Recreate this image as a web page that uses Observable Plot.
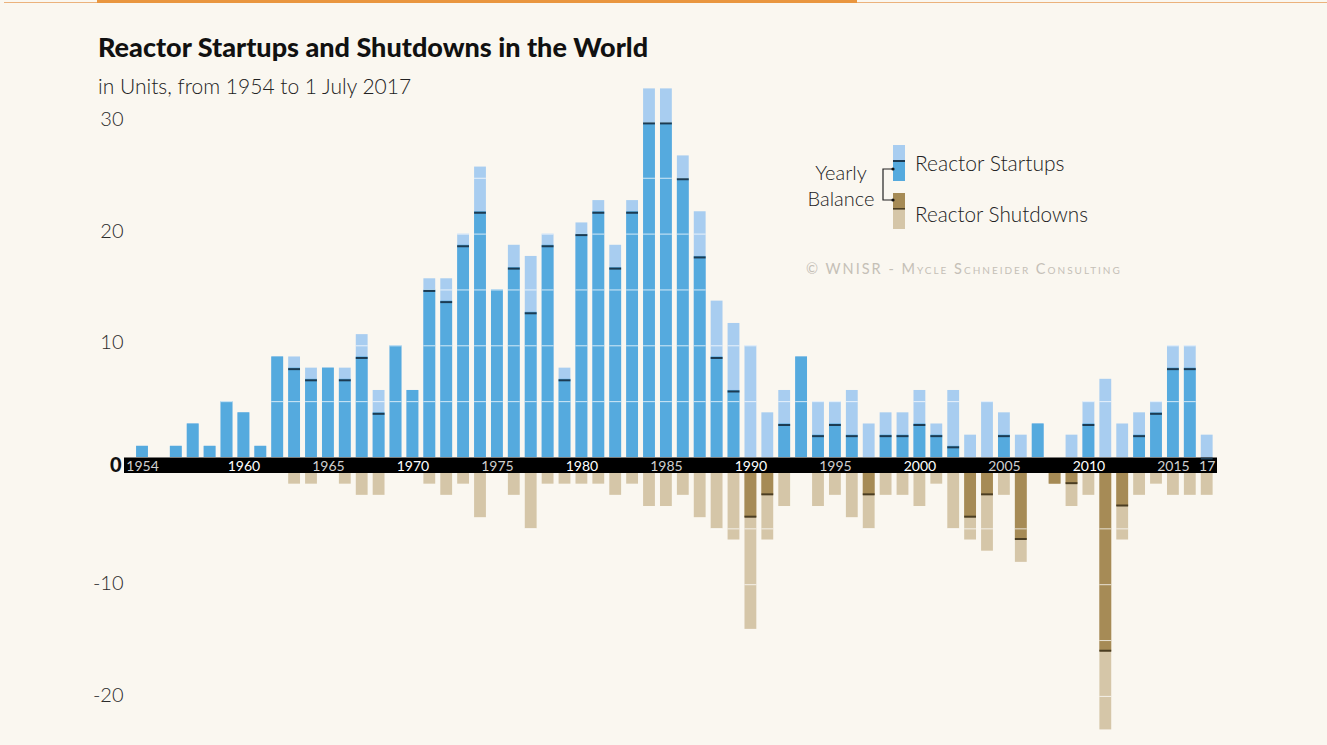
<!DOCTYPE html>
<html>
<head>
<meta charset="utf-8">
<script src="https://cdn.jsdelivr.net/npm/d3@7"></script>
<script src="https://cdn.jsdelivr.net/npm/@observablehq/plot@0.6"></script>
<style>
  html, body { margin: 0; padding: 0; background: #faf7f0; }
  #wrap { position: relative; width: 1327px; height: 745px; overflow: hidden; background: #faf7f0; font-family: Lato, "Open Sans", sans-serif; }
  .thin { position: absolute; top: 2px; left: 4px; right: 0; height: 1px; background: #ebb27c; }
  .thick { position: absolute; top: 0; left: 97px; width: 760px; height: 3px; background: #e9963f; }
  .title { position: absolute; left: 98px; top: 33px; line-height: 1; font-weight: 900; font-size: 27px; color: #111; white-space: nowrap; }
  .subtitle { position: absolute; left: 98px; top: 73px; font-weight: 300; font-size: 21px; color: #222; white-space: nowrap; }
  #chart { position: absolute; left: 0; top: 60px; }
</style>
</head>
<body>
<div id="wrap">
  <div class="thin"></div>
  <div class="thick"></div>
  <div class="title">Reactor Startups and Shutdowns in the World</div>
  <div class="subtitle">in Units, from 1954 to 1 July 2017</div>
  <div id="chart"></div>
</div>
<script>
const years = [1954,1955,1956,1957,1958,1959,1960,1961,1962,1963,
  1964,1965,1966,1967,1968,1969,1970,1971,1972,1973,
  1974,1975,1976,1977,1978,1979,1980,1981,1982,1983,
  1984,1985,1986,1987,1988,1989,1990,1991,1992,1993,
  1994,1995,1996,1997,1998,1999,2000,2001,2002,2003,
  2004,2005,2006,2007,2008,2009,2010,2011,2012,2013,
  2014,2015,2016,2017];
const startups = [1,0,1,3,1,5,4,1,9,9,
  8,8,8,11,6,10,6,16,16,20,
  26,15,19,18,20,8,21,23,19,23,
  33,33,27,22,14,12,10,4,6,9,
  5,5,6,3,4,4,6,3,6,2,
  5,4,2,3,0,2,5,7,3,4,
  5,10,10,2];
const shutdowns = [0,0,0,0,0,0,0,0,0,1,
  1,0,1,2,2,0,0,1,2,1,
  4,0,2,5,1,1,1,1,2,1,
  3,3,2,4,5,6,14,6,3,0,
  3,2,4,5,2,2,3,1,5,6,
  7,2,8,0,1,3,2,23,6,2,
  1,2,2,2];
const yearLabels = [
  {year:1954, text:"1954", bold:false},{year:1960, text:"1960", bold:true},
  {year:1965, text:"1965", bold:false},{year:1970, text:"1970", bold:true},
  {year:1975, text:"1975", bold:false},{year:1980, text:"1980", bold:true},
  {year:1985, text:"1985", bold:false},{year:1990, text:"1990", bold:true},
  {year:1995, text:"1995", bold:false},{year:2000, text:"2000", bold:true},
  {year:2005, text:"2005", bold:false},{year:2010, text:"2010", bold:true},
  {year:2015, text:"2015", bold:false},{year:2017, text:"17", bold:false}];
const posTicks = [30, 20, 10];
const negTicks = [-10, -20];
const gridStep = 5;

const C = {
  lightBlue: "#a8cdf0", darkBlue: "#55aade", blueLine: "#1c3b52",
  lightTan: "#d5c6a8", darkTan: "#a68b56", tanLine: "#4a3d22"
};

const rows = years.map((year, i) => ({
  year, startups: startups[i], shutdowns: shutdowns[i], balance: startups[i] - shutdowns[i]
}));

const gridPos = [], gridNeg = [];
for (const r of rows) {
  for (let v = gridStep; v <= r.startups; v += gridStep) gridPos.push({year: r.year, v});
  for (let v = gridStep; v <= r.shutdowns; v += gridStep) gridNeg.push({year: r.year, v: -v});
}

const k = 11.17;     // px per unit
const zeroY = 397;   // svg y of positive zero
const gap = 15.5;    // black band thickness

const plot = Plot.plot({
  width: 1327, height: 685,
  marginLeft: 124, marginRight: 110, marginTop: 0, marginBottom: 0,
  style: {background: "transparent", fontFamily: "Lato, 'Open Sans', sans-serif", overflow: "visible"},
  x: {type: "band", domain: years, range: [133.55, 1215.15], paddingInner: 0.3, paddingOuter: 0.15, axis: null},
  y: {domain: [-25, 33], range: [zeroY + 25 * k, zeroY - 33 * k], axis: null},
  marks: [
    Plot.barY(rows, {x: "year", y: "startups", fill: C.lightBlue}),
    Plot.barY(rows, {x: "year", y: d => Math.max(d.balance, 0), fill: C.darkBlue}),
    Plot.barY(rows, {x: "year", y: d => -d.shutdowns, fill: C.lightTan, dy: gap}),
    Plot.barY(rows, {x: "year", y: d => Math.min(d.balance, 0), fill: C.darkTan, dy: gap}),
    Plot.tickY(gridPos, {x: "year", y: "v", stroke: "white", strokeOpacity: 0.75, strokeWidth: 1}),
    Plot.tickY(gridNeg, {x: "year", y: "v", stroke: "white", strokeOpacity: 0.75, strokeWidth: 1, dy: gap}),
    Plot.tickY(rows.filter(d => d.startups > 0 && d.shutdowns > 0 && d.balance > 0),
      {x: "year", y: "balance", stroke: C.blueLine, strokeWidth: 2, dy: 1}),
    Plot.tickY(rows.filter(d => d.startups > 0 && d.shutdowns > 0 && d.balance < 0),
      {x: "year", y: "balance", stroke: C.tanLine, strokeWidth: 2, dy: gap - 1}),
    Plot.ruleY([0], {stroke: "black", strokeWidth: gap, dy: gap / 2}),
    Plot.tickY(rows.filter(d => d.startups > 0 && d.shutdowns > 0 && d.balance === 0),
      {x: "year", y: "balance", stroke: C.blueLine, strokeWidth: 2, dy: 1}),
    Plot.text(yearLabels, {x: "year", y: 0, dy: gap / 2 + 1, text: "text", fontSize: 14,
      fill: d => d.bold ? "#ffffff" : "#d0d0d0", fontWeight: d => d.bold ? 700 : 300}),
    Plot.text(posTicks, {y: d => d, text: d => String(d), frameAnchor: "left", textAnchor: "end",
      dx: -1, dy: -3, fontSize: 20, fontWeight: 300, fill: "#2a2a2a"}),
    Plot.text(negTicks, {y: d => d, text: d => String(d), frameAnchor: "left", textAnchor: "end",
      dx: -1, dy: gap - 1, fontSize: 20, fontWeight: 300, fill: "#2a2a2a"}),
    Plot.text([0], {y: d => d, text: d => String(d), frameAnchor: "left", textAnchor: "end",
      dx: -3, dy: gap / 2, fontSize: 20, fontWeight: 900, fill: "#111"})
  ]
});
document.getElementById("chart").appendChild(plot);

// Legend and credit annotations
const svg = d3.select(plot);
const g = svg.append("g").attr("font-family", "Lato, 'Open Sans', sans-serif").attr("text-anchor", "start");
g.append("rect").attr("x", 893).attr("y", 85).attr("width", 12).attr("height", 16).attr("fill", C.lightBlue);
g.append("rect").attr("x", 893).attr("y", 101).attr("width", 12).attr("height", 20).attr("fill", C.darkBlue);
g.append("rect").attr("x", 893).attr("y", 100).attr("width", 12).attr("height", 2).attr("fill", C.blueLine);
g.append("rect").attr("x", 893).attr("y", 133).attr("width", 12).attr("height", 16).attr("fill", C.darkTan);
g.append("rect").attr("x", 893).attr("y", 149).attr("width", 12).attr("height", 20).attr("fill", C.lightTan);
g.append("rect").attr("x", 893).attr("y", 148).attr("width", 12).attr("height", 1.6).attr("fill", C.tanLine);
g.append("path").attr("d", "M893,109H883V140H893").attr("fill", "none").attr("stroke", "#222").attr("stroke-width", 1.2);
g.append("circle").attr("cx", 893).attr("cy", 109).attr("r", 1.6).attr("fill", "#111");
g.append("circle").attr("cx", 893).attr("cy", 140).attr("r", 1.6).attr("fill", "#111");
const lt = (x, y, t, anchor, size) => g.append("text").attr("x", x).attr("y", y).attr("text-anchor", anchor)
  .attr("dominant-baseline", "central").attr("font-size", size).attr("font-weight", 300).attr("fill", "#222").text(t);
lt(841, 112, "Yearly", "middle", 20);
lt(841, 138, "Balance", "middle", 20);
lt(915, 102, "Reactor Startups", "start", 21);
lt(915, 154, "Reactor Shutdowns", "start", 20.7);
g.append("text").attr("x", 806).attr("y", 208).attr("text-anchor", "start").attr("dominant-baseline", "central")
  .attr("font-size", 14.5).attr("font-weight", 400).attr("letter-spacing", 2.0)
  .attr("fill", "#c5c0b7").style("font-variant", "small-caps")
  .text("© WNISR - Mycle Schneider Consulting");
</script>
</body>
</html>
